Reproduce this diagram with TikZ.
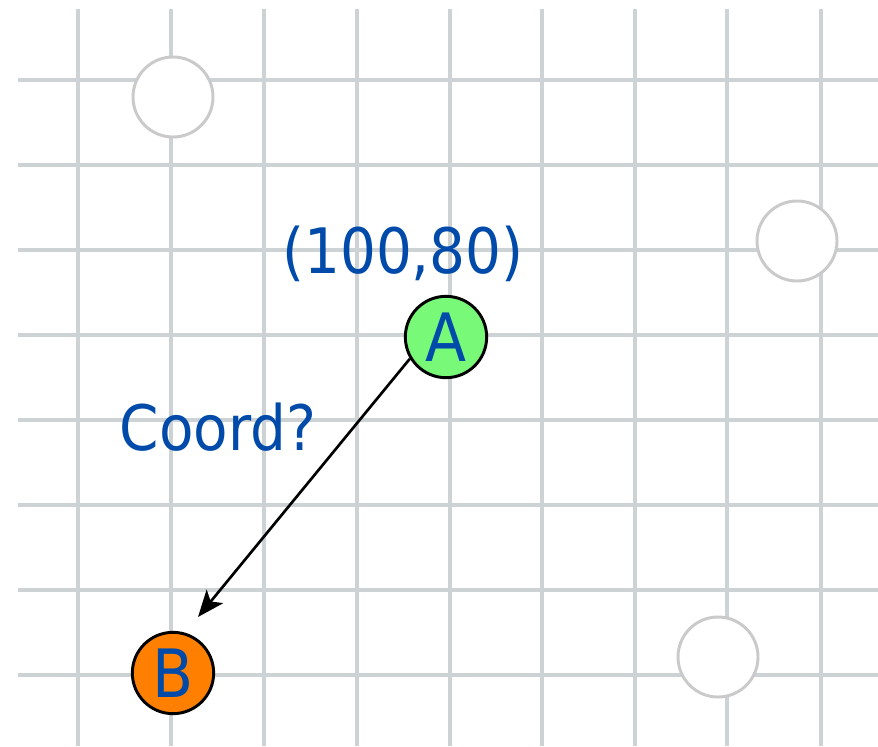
\documentclass[tikz,border=0pt]{standalone}
\usepackage{fontspec}
\newfontfamily\lblfont{DejaVu Sans Condensed}
\usetikzlibrary{arrows.meta}
\definecolor{gridc}{RGB}{205,210,213}
\definecolor{ghostc}{RGB}{202,202,202}
\definecolor{txtblue}{RGB}{0,75,170}
\definecolor{agreen}{RGB}{120,250,120}
\definecolor{borange}{RGB}{255,128,0}
\tikzset{
  gridline/.style={draw=gridc, line width=2.6pt},
  ghost/.style={circle, draw=ghostc, line width=2.2pt, fill=white, minimum size=60pt, inner sep=0pt},
  pointnode/.style={circle, draw=black, line width=2.2pt, minimum size=61pt, inner sep=0pt, text=txtblue, font=\lblfont\fontsize{50}{54}\selectfont},
  bigtext/.style={text=txtblue, font=\lblfont\fontsize{47}{52}\selectfont, anchor=base, inner sep=0pt},
  arrowline/.style={draw=black, line width=2pt, -{Stealth[length=20pt, width=16pt, inset=5pt]}}
}
\begin{document}
\begin{tikzpicture}[x=0.75pt, y=-0.75pt]
  \useasboundingbox (0,0) rectangle (878,746);
  \fill[white] (0,0) rectangle (878,746);
  % grid
  \foreach \gx in {78,171,264,357,450,542,635,727,821} {
    \draw[gridline] (\gx,9) -- (\gx,746);
  }
  \foreach \gy in {80,165,250,335,420,505,590,675} {
    \draw[gridline] (18,\gy) -- (878,\gy);
  }
  % ghost circles
  \node[ghost] (g1) at (173,97) {};
  \node[ghost] (g2) at (797,241) {};
  \node[ghost] (g3) at (718,657) {};
  % labels
  \node[bigtext] (coordlbl) at (403,273) {(100,80)};
  \node[bigtext] (qlbl) at (218,450) {Coord?};
  % points
  \node[pointnode, fill=agreen] (A) at (446,337) {A};
  \node[pointnode, fill=borange] (B) at (173,673) {B};
  \coordinate (tip) at (198,617);
  \draw[arrowline] (A.211) -- (tip);
\end{tikzpicture}
\end{document}
